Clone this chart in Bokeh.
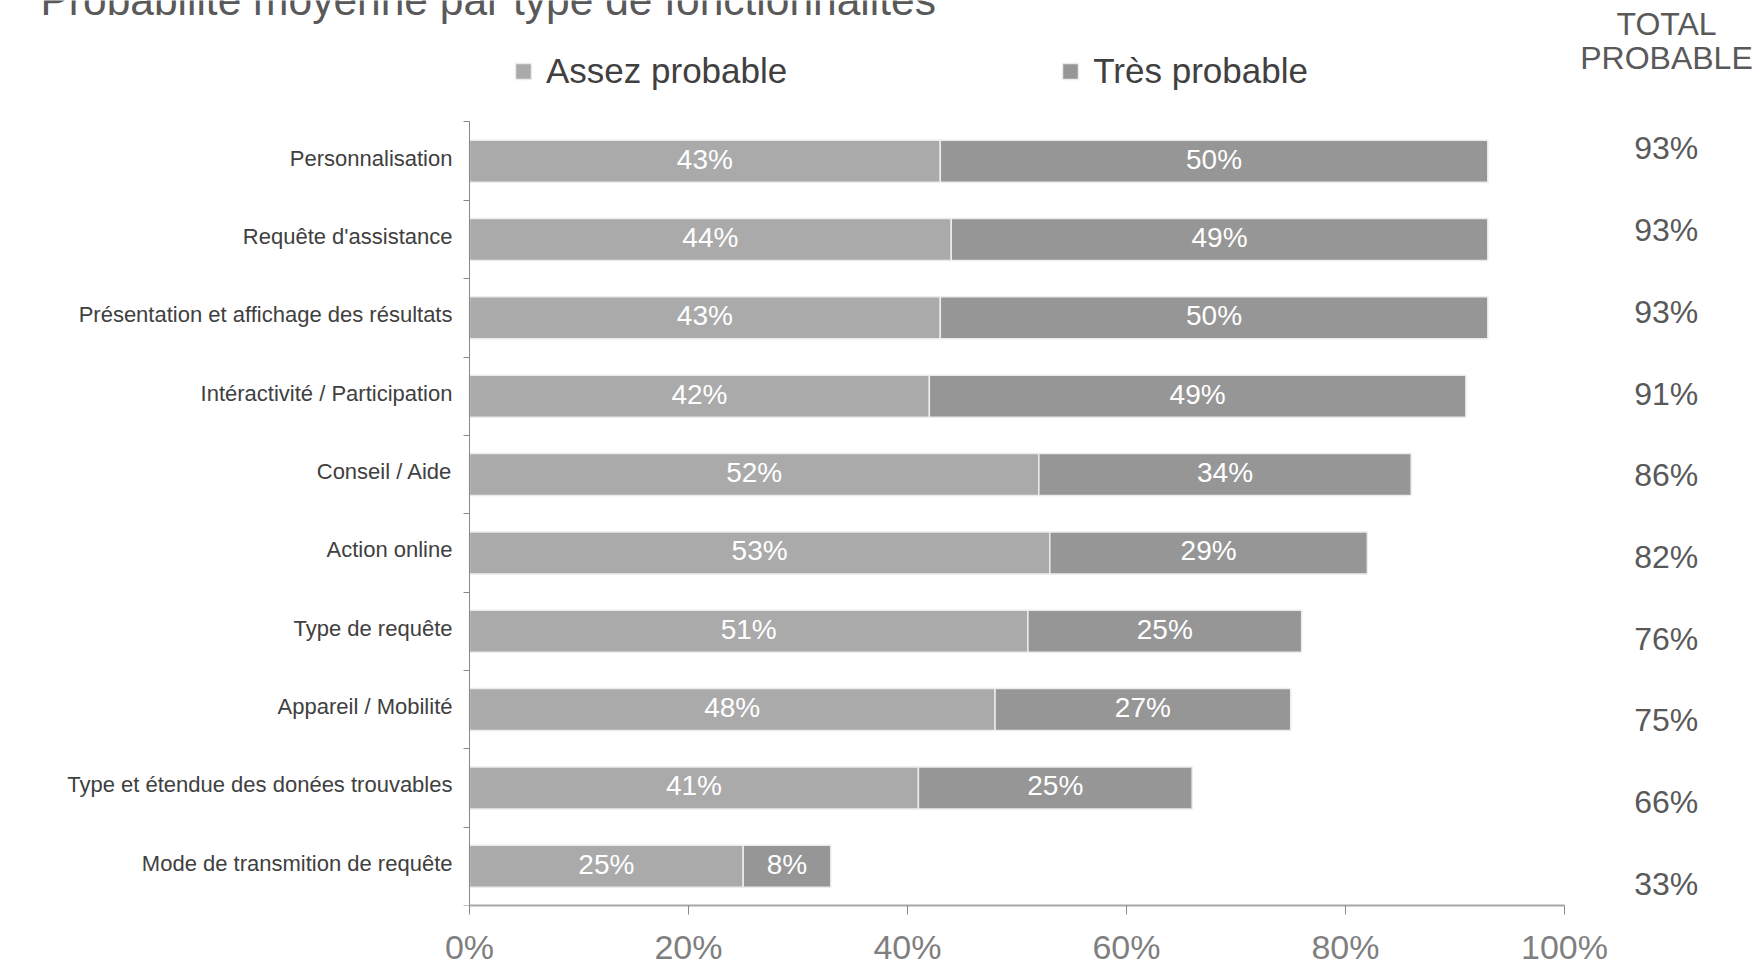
from bokeh.plotting import figure
from bokeh.models import (Range1d, FixedTicker, PrintfTickFormatter, Label, Legend,
                          LegendItem, ColumnDataSource)
from bokeh.core.properties import value
from bokeh.embed import file_html
from bokeh.resources import INLINE

# ---------------- data ----------------
categories = [
    "Personnalisation",
    "Requête d'assistance",
    "Présentation et affichage des résultats",
    "Intéractivité / Participation",
    "Conseil / Aide",
    "Action online",
    "Type de requête",
    "Appareil / Mobilité",
    "Type et étendue des donées trouvables",
    "Mode de transmition de requête",
]
assez = [43, 44, 43, 42, 52, 53, 51, 48, 41, 25]
tres = [50, 49, 50, 49, 34, 29, 25, 27, 25, 8]
totals = [93, 93, 93, 91, 86, 82, 76, 75, 66, 33]
x_ticks = [0, 20, 40, 60, 80, 100]
series_names = ["Assez probable", "Très probable"]
title_text = "Probabilité moyenne par type de fonctionnalités"
header_lines = ["TOTAL", "PROBABLE"]

# ---------------- style / layout ----------------
FONT = "Liberation Sans"
C_ASSEZ = "#aaaaaa"
C_TRES = "#969696"
BAR_EDGE = "#ececec"
TOTAL_X = 109.3      # column position for the totals
CAT_LABEL_X = -1.55  # right edge of the category labels
FRAME_LEFT = 20

n = len(categories)
idx = list(range(n))
src = ColumnDataSource(dict(
    y=idx,
    cat=categories,
    assez=assez,
    tres=tres,
    end=[a + t for a, t in zip(assez, tres)],
    assez_mid=[a / 2 for a in assez],
    tres_mid=[a + t / 2 for a, t in zip(assez, tres)],
    assez_lbl=[f"{a}%" for a in assez],
    tres_lbl=[f"{t}%" for t in tres],
    total_lbl=[f"{t}%" for t in totals],
    zero=[0] * n,
))

p = figure(width=1757, height=968,
           x_range=Range1d(-41.0, 117.63), y_range=Range1d(9.5, -2.05),
           output_backend="svg", toolbar_location=None,
           min_border_left=FRAME_LEFT, min_border_right=0, min_border_top=0,
           min_border_bottom=60, title=None)
p.extra_y_ranges = {"tot": Range1d(9.269, -1.812)}
p.outline_line_color = None
p.xgrid.visible = False
p.ygrid.visible = False
p.background_fill_color = "white"
p.border_fill_color = "white"

r1 = p.hbar(y="y", left="zero", right="assez", height=0.536, source=src,
            fill_color=C_ASSEZ, line_color=BAR_EDGE, line_width=1.5)
r2 = p.hbar(y="y", left="assez", right="end", height=0.536, source=src,
            fill_color=C_TRES, line_color=BAR_EDGE, line_width=1.5)

p.text(x="assez_mid", y="y", text="assez_lbl", source=src, y_offset=-2,
       text_font=value(FONT), text_font_size="28px", text_color="white",
       text_align="center", text_baseline="middle")
p.text(x="tres_mid", y="y", text="tres_lbl", source=src, y_offset=-2,
       text_font=value(FONT), text_font_size="28px", text_color="white",
       text_align="center", text_baseline="middle")
p.text(x=TOTAL_X, y="y", text="total_lbl", source=src, y_range_name="tot",
       text_font=value(FONT), text_font_size="32px", text_color="#595959",
       text_align="center", text_baseline="middle")
# category labels
p.text(x=CAT_LABEL_X, y="y", text="cat", source=src, y_offset=-3,
       text_font=value(FONT), text_font_size="22px", text_color="#404040",
       text_align="right", text_baseline="middle")

# y axis: line + boundary ticks drawn at x = 0 (labels are drawn as text above)
ya = p.yaxis[0]
ya.fixed_location = 0
ya.ticker = FixedTicker(ticks=[], minor_ticks=[i - 0.5 for i in range(n + 1)])
ya.bounds = (-0.5, n - 0.5)
ya.major_tick_line_color = None
ya.major_tick_out = 0
ya.major_tick_in = 0
ya.minor_tick_out = 6
ya.minor_tick_in = 0
ya.minor_tick_line_color = "#888888"
ya.axis_line_color = "#888888"
ya.major_label_standoff = 0

# x axis
xa = p.xaxis[0]
xa.ticker = FixedTicker(ticks=x_ticks, minor_ticks=[])
xa.formatter = PrintfTickFormatter(format="%d%%")
xa.bounds = (0, 100)
xa.axis_line_color = "#a6a6a6"
xa.axis_line_width = 2
xa.major_tick_out = 9
xa.major_tick_in = 0
xa.major_tick_line_color = "#888888"
xa.major_label_standoff = 13
xa.major_label_text_font = FONT
xa.major_label_text_font_size = "34px"
xa.major_label_text_color = "#7f7f7f"

# legend
legend = Legend(items=[LegendItem(label=value(series_names[0]), renderers=[r1]),
                       LegendItem(label=value(series_names[1]), renderers=[r2])],
                orientation="horizontal", location=(513 - FRAME_LEFT, 813.8),
                glyph_width=20, glyph_height=20, label_standoff=13, spacing=273,
                padding=0, margin=0, border_line_color=None,
                background_fill_alpha=0,
                label_text_font=FONT, label_text_font_size="35px",
                label_text_color="#404040")
p.add_layout(legend)

# title (partly cut by the top edge, as in the original)
p.add_layout(Label(x=40 - FRAME_LEFT, y=905, x_units="screen", y_units="screen",
                   text=title_text, text_font=FONT, text_font_size="42.5px",
                   text_color="#595959", text_baseline="alphabetic"))
# total column header
for k, line in enumerate(header_lines):
    p.add_layout(Label(x=1666 - FRAME_LEFT, y=881.3 - 33.9 * k,
                       x_units="screen", y_units="screen",
                       text=line, text_font=FONT, text_font_size="32px",
                       text_color="#595959", text_align="center", text_baseline="middle"))

open("out.html", "w").write(file_html(p, INLINE))
